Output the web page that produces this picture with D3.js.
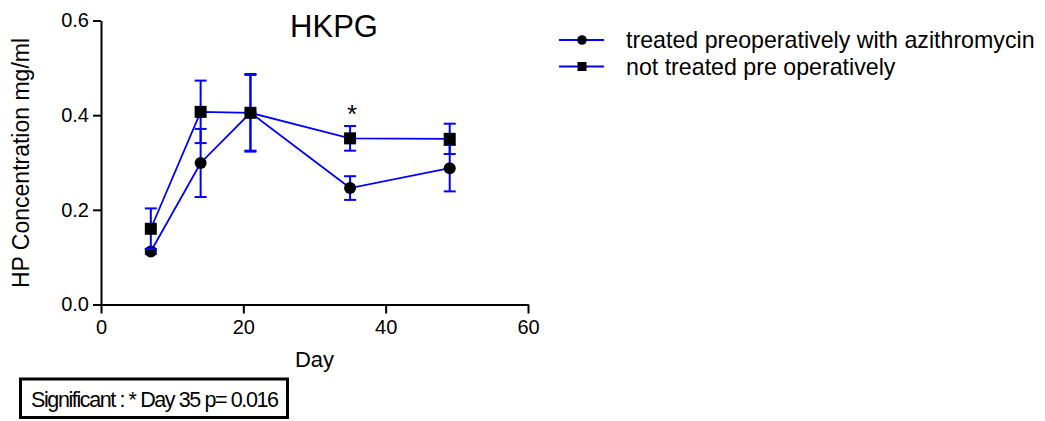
<!DOCTYPE html>
<html>
<head>
<meta charset="utf-8">
<script src="https://cdn.jsdelivr.net/npm/d3@7/dist/d3.min.js"></script>
<style>
  body { margin: 0; background: #fff; }
  svg text { font-family: "Liberation Sans", Arial, sans-serif; fill: #000; }
</style>
</head>
<body>
<script>
var days = [7, 14, 21, 35, 49];
var treatedMean = [0.112, 0.299, 0.405, 0.246, 0.288];
var treatedErr = [0.005, 0.072, 0.080, 0.025, 0.049];
var notTreatedMean = [0.160, 0.407, 0.405, 0.351, 0.350];
var notTreatedErr = [0.043, 0.066, 0.082, 0.026, 0.032];
var xTicks = [0, 20, 40, 60];
var yTicks = [0, 0.2, 0.4, 0.6];
var seriesNames = ["treated preoperatively with azithromycin", "not treated pre operatively"];
var seriesSymbols = ["circle", "square"];

var w = 1045, h = 421;
var blue = "#0000ff";

var svg = d3.select("body").append("svg").attr("width", w).attr("height", h);

var x = d3.scaleLinear().domain([0, 60]).range([101, 528]);
var y = d3.scaleLinear().domain([0, 0.6]).range([304.5, 20.5]);

// axes
var gy = svg.append("g").attr("transform", "translate(101,0)")
    .call(d3.axisLeft(y).tickValues(yTicks).tickFormat(d3.format(".1f")).tickSize(8).tickSizeOuter(0).tickPadding(4));
var gx = svg.append("g").attr("transform", "translate(0,304.5)")
    .call(d3.axisBottom(x).tickValues(xTicks).tickSize(9).tickSizeOuter(0).tickPadding(6));
[gx, gy].forEach(function (g) {
    g.selectAll("path, line").attr("stroke", "#000").attr("stroke-width", 2);
    g.selectAll("text").attr("font-size", "20px").attr("font-family", null);
});

svg.append("text").attr("x", 334).attr("y", 37).attr("text-anchor", "middle")
    .attr("font-size", "31px").text("HKPG");
svg.append("text").attr("x", 314.5).attr("y", 367).attr("text-anchor", "middle")
    .attr("font-size", "22px").text("Day");
svg.append("text").attr("transform", "translate(29,163) rotate(-90)").attr("text-anchor", "middle")
    .attr("font-size", "23px").text("HP Concentration mg/ml");

var series = [
    { mean: treatedMean, err: treatedErr, symbol: "circle" },
    { mean: notTreatedMean, err: notTreatedErr, symbol: "square" }
];

var line = d3.line().x(function (d) { return x(d.day); }).y(function (d) { return y(d.v); });

series.forEach(function (s) {
    var pts = days.map(function (d, i) { return { day: d, v: s.mean[i], e: s.err[i] }; });
    var g = svg.append("g");
    // error bars
    pts.forEach(function (p) {
        var cx = x(p.day);
        g.append("line").attr("x1", cx).attr("x2", cx).attr("y1", y(p.v - p.e)).attr("y2", y(p.v + p.e))
            .attr("stroke", blue).attr("stroke-width", 2);
        [p.v - p.e, p.v + p.e].forEach(function (v) {
            g.append("line").attr("x1", cx - 6).attr("x2", cx + 6).attr("y1", y(v)).attr("y2", y(v))
                .attr("stroke", blue).attr("stroke-width", 2);
        });
    });
    g.append("path").datum(pts).attr("d", line).attr("fill", "none")
        .attr("stroke", blue).attr("stroke-width", 1.8);
    pts.forEach(function (p) {
        if (s.symbol === "circle") {
            g.append("circle").attr("cx", x(p.day)).attr("cy", y(p.v)).attr("r", 6).attr("fill", "#000");
        } else {
            g.append("rect").attr("x", x(p.day) - 6).attr("y", y(p.v) - 6)
                .attr("width", 12).attr("height", 12).attr("fill", "#000");
        }
    });
});

// significance star at day 35
svg.append("text").attr("x", x(35) + 2).attr("y", 123).attr("text-anchor", "middle")
    .attr("font-size", "26px").text("*");

// legend
var legendY = [40, 66.5];
seriesNames.forEach(function (name, i) {
    var lg = svg.append("g").attr("transform", "translate(0," + legendY[i] + ")");
    lg.append("line").attr("x1", 559).attr("x2", 604).attr("y1", 0).attr("y2", 0)
        .attr("stroke", blue).attr("stroke-width", 2);
    if (seriesSymbols[i] === "circle") {
        lg.append("circle").attr("cx", 582).attr("cy", 0).attr("r", 4.8).attr("fill", "#000");
    } else {
        lg.append("rect").attr("x", 577.5).attr("y", -4.5).attr("width", 9).attr("height", 9).attr("fill", "#000");
    }
    lg.append("text").attr("x", 626).attr("y", 0).attr("dy", "0.35em")
        .attr("font-size", "23.2px").text(name);
});

// note box
svg.append("rect").attr("x", 20.5).attr("y", 379).attr("width", 267).attr("height", 38.5)
    .attr("fill", "#fff").attr("stroke", "#000").attr("stroke-width", 3);
svg.append("text").attr("x", 31).attr("y", 407).attr("font-size", "21.5px")
    .attr("textLength", 248).attr("lengthAdjust", "spacing")
    .text("Significant : * Day 35 p= 0.016");
</script>
</body>
</html>
